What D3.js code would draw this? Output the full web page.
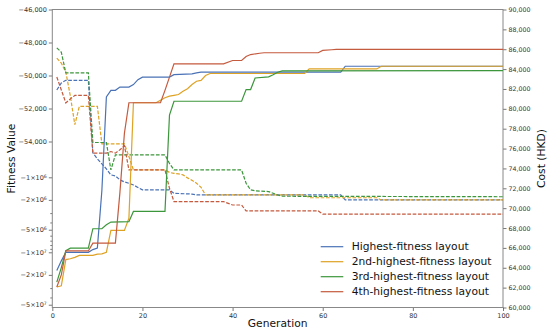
<!DOCTYPE html>
<html>
<head>
<meta charset="utf-8">
<script src="https://cdn.jsdelivr.net/npm/d3@7"></script>
<style>
  body { margin: 0; background: #fff; }
  text { font-family: "DejaVu Sans", sans-serif; }
</style>
</head>
<body>
<svg id="chart" width="550" height="332"></svg>
<script>
// knots [generation, value]; straight segments between them
var fitBlue = [[1,-1.75e7],[2,-1.3e7],[3,-1.0e7],[8,-1.0e7],[9,-9.2e6],[10,-8.8e6],[11,-1.5e6],[12,-51300],[13,-50900],[14,-50900],[15,-50700],[17,-50700],[18,-50550],[19,-50250],[20,-50100],[26,-50100],[27,-49950],[31,-49900],[32,-49840],[33,-49800],[64,-49800],[65,-49440],[100,-49440]];
var fitOrange = [[1,-2.9e7],[2,-2.8e7],[3,-1.25e7],[4,-1.22e7],[5,-1.17e7],[6,-1.1e7],[9,-1.1e7],[10,-1.06e7],[11,-1.05e7],[12,-1.0e7],[13,-5.1e6],[16,-5.1e6],[17,-3.5e6],[18,-51650],[23,-51650],[24,-51500],[25,-51350],[26,-51250],[27,-51200],[28,-51150],[29,-50950],[30,-50800],[31,-50550],[32,-50350],[33,-50300],[34,-50000],[35,-49880],[56,-49880],[57,-49600],[72,-49600],[73,-49440],[100,-49440]];
var fitGreen = [[1,-2.5e7],[2,-1.6e7],[3,-9.5e6],[4,-8.8e6],[8,-8.8e6],[9,-4.85e6],[11,-4.85e6],[12,-4.3e6],[13,-3.95e6],[17,-3.9e6],[18,-2.85e6],[25,-2.85e6],[26,-52400],[27,-51560],[42,-51560],[43,-50850],[44,-50850],[45,-50150],[48,-50080],[49,-49950],[50,-49800],[51,-49720],[100,-49700]];
var fitRed = [[1,-2.9e7],[2,-2.0e7],[3,-9.6e6],[8,-9.6e6],[9,-7.55e6],[14,-7.55e6],[15,-1.6e6],[16,-53500],[17,-51650],[24,-51650],[25,-50900],[26,-50100],[27,-49290],[38,-49290],[40,-49090],[42,-49090],[43,-48850],[44,-48730],[46,-48650],[47,-48620],[59,-48620],[60,-48480],[62,-48440],[63,-48420],[100,-48420]];

var costBlue = [[1,81900],[2,82600],[3,82870],[8,82870],[9,75570],[10,74960],[11,74460],[12,73950],[13,73350],[14,73250],[15,72850],[16,72640],[17,72510],[18,72340],[19,72090],[20,71840],[26,71840],[27,71500],[31,71420],[32,71330],[64,71330],[65,70830],[100,70830]];
var costOrange = [[1,85100],[2,84600],[3,83700],[4,81300],[5,78400],[6,80250],[10,80250],[11,76480],[16,76480],[17,75200],[18,73850],[25,73850],[26,73600],[27,73500],[28,73450],[29,73350],[30,73050],[31,72800],[32,72510],[33,72100],[34,71330],[56,71330],[57,71050],[72,71050],[73,70830],[100,70830]];
var costGreen = [[1,86140],[2,85700],[3,83610],[8,83610],[9,76610],[12,76610],[13,73850],[14,75370],[25,75370],[26,74500],[27,73850],[42,73850],[43,72510],[44,71840],[45,71750],[48,71670],[49,71500],[50,71330],[51,71200],[100,71150]];
var costRed = [[1,83200],[2,81900],[3,80600],[4,81000],[5,81350],[8,81350],[9,75540],[12,75540],[13,75700],[14,75540],[15,75870],[16,76300],[17,73850],[25,73850],[26,72000],[27,70660],[38,70660],[40,70320],[42,70320],[43,69720],[59,69720],[60,69410],[100,69410]];

var seriesNames = ["Highest-fitness layout", "2nd-highest-fitness layout", "3rd-highest-fitness layout", "4th-highest-fitness layout"];
var colors = ["#4a72b6", "#dea224", "#3c963c", "#c45a3e"];
var fitSeries = [fitBlue, fitOrange, fitGreen, fitRed];
var costSeries = [costBlue, costOrange, costGreen, costRed];

var xTicks = [0, 20, 40, 60, 80, 100];
var fitLinTicks = [-46000, -48000, -50000, -52000, -54000];
var fitLogTicks = [1e6, 2e6, 5e6, 1e7, 2e7, 5e7];
var fitLogMinor = [3e6, 4e6, 6e6, 7e6, 8e6, 9e6, 3e7, 4e7];
var costTicks = d3.range(60000, 90001, 2000);

var svg = d3.select("#chart");
// plot box (named so they don't clash with window.top)
var plotLeft = 52.3, plotRight = 503, plotTop = 9.5, plotBottom = 307.5;

var x = d3.scaleLinear().domain([0, 100]).range([plotLeft, plotRight]);
var yCost = d3.scaleLinear().domain([60000, 90000]).range([plotBottom, plotTop]);

// fitness axis: linear near the top, log (of magnitude) below
var yLin = d3.scaleLinear().domain([-46000, -56000]).range([plotTop, plotTop + 165]);
var yLog = d3.scaleLog().domain([1e6, 1e7]).range([177.3, 252.3]);
var yGap = d3.scaleLinear().domain([-56000, -1e6]).range([yLin(-56000), yLog(1e6)]);
function yFit(v) {
  if (v >= -56000) return yLin(v);
  if (v > -1e6) return yGap(v);
  return yLog(-v);
}

var tickColor = "#555", labelColor = "#333";

function styleAxis(g, size) {
  g.select(".domain").remove();
  g.selectAll("line").attr("stroke", tickColor).attr("stroke-width", 0.8);
  g.selectAll("text").attr("fill", labelColor).style("font-size", size + "px");
}

// x axis
svg.append("g")
  .attr("transform", "translate(0," + plotBottom + ")")
  .call(d3.axisBottom(x).tickValues(xTicks).tickSize(3.5).tickPadding(2))
  .call(styleAxis, 6.5);

// left axis, linear part
svg.append("g")
  .attr("transform", "translate(" + plotLeft + ",0)")
  .call(d3.axisLeft(yLin).tickValues(fitLinTicks).tickFormat(d3.format(",")).tickSize(3.5).tickPadding(2))
  .call(styleAxis, 6.5);

// left axis, log part
var logAxis = svg.append("g")
  .attr("transform", "translate(" + plotLeft + ",0)")
  .call(d3.axisLeft(yLog).tickValues(fitLogTicks).tickFormat("").tickSize(3.5).tickPadding(2))
  .call(styleAxis, 6.5);
logAxis.selectAll(".tick text").each(function (d) {
  var e = Math.floor(Math.log10(d) + 1e-9);
  var m = Math.round(d / Math.pow(10, e));
  var t = d3.select(this).text(null);
  t.append("tspan").text("\u2212" + m + "\u00d710");
  t.append("tspan").attr("dy", "-0.45em").style("font-size", "4.6px").text(e);
});
svg.append("g")
  .attr("transform", "translate(" + plotLeft + ",0)")
  .call(d3.axisLeft(yLog).tickValues(fitLogMinor).tickFormat("").tickSize(2))
  .call(styleAxis, 6.5);

// right axis
svg.append("g")
  .attr("transform", "translate(" + plotRight + ",0)")
  .call(d3.axisRight(yCost).tickValues(costTicks).tickFormat(d3.format(",")).tickSize(3.5).tickPadding(2))
  .call(styleAxis, 6.3);

// frame
svg.append("rect")
  .attr("x", plotLeft).attr("y", plotTop)
  .attr("width", plotRight - plotLeft).attr("height", plotBottom - plotTop)
  .attr("fill", "none").attr("stroke", "#888").attr("stroke-width", 1);

var fitLine = d3.line().x(function (d) { return x(d[0]); }).y(function (d) { return yFit(d[1]); });
var costLine = d3.line().x(function (d) { return x(d[0]); }).y(function (d) { return yCost(d[1]); });

costSeries.forEach(function (s, i) {
  svg.append("path").datum(s)
    .attr("d", costLine)
    .attr("fill", "none")
    .attr("stroke", colors[i])
    .attr("stroke-width", 1.2)
    .attr("stroke-dasharray", "3.7,1.6");
});
fitSeries.forEach(function (s, i) {
  svg.append("path").datum(s)
    .attr("d", fitLine)
    .attr("fill", "none")
    .attr("stroke", colors[i])
    .attr("stroke-width", 1.2);
});

// axis labels
svg.append("text")
  .attr("x", (plotLeft + plotRight) / 2).attr("y", 327)
  .attr("text-anchor", "middle").style("font-size", "10.7px").attr("fill", "#111")
  .text("Generation");
svg.append("text")
  .attr("transform", "translate(15," + ((plotTop + plotBottom) / 2) + ")rotate(-90)")
  .attr("text-anchor", "middle").style("font-size", "10.7px").attr("fill", "#111")
  .text("Fitness Value");
svg.append("text")
  .attr("transform", "translate(545," + ((plotTop + plotBottom) / 2) + ")rotate(-90)")
  .attr("text-anchor", "middle").style("font-size", "10.7px").attr("fill", "#111")
  .text("Cost (HKD)");

// legend
var legend = svg.append("g");
seriesNames.forEach(function (name, i) {
  var ly = 246.7 + i * 15;
  legend.append("line")
    .attr("x1", 320.7).attr("x2", 343.3).attr("y1", ly).attr("y2", ly)
    .attr("stroke", colors[i]).attr("stroke-width", 1.2);
  legend.append("text")
    .attr("x", 351.7).attr("y", ly).attr("dy", "0.35em")
    .style("font-size", "10.7px").attr("fill", "#111")
    .text(name);
});
</script>
</body>
</html>
